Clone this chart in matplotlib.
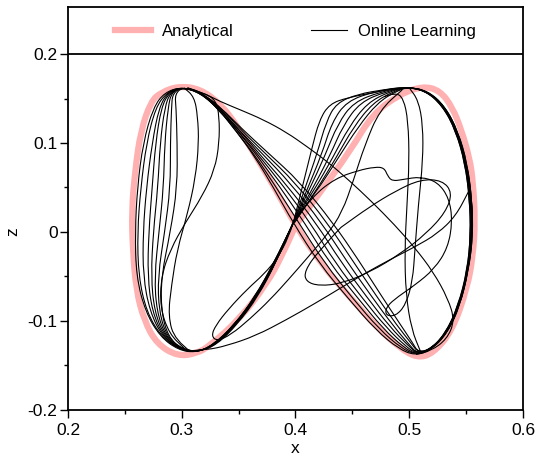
import numpy as np
import matplotlib
matplotlib.use('Agg')
import matplotlib.pyplot as plt
from matplotlib.path import Path
from matplotlib.patches import PathPatch
from matplotlib.lines import Line2D

plt.rcParams['font.family'] = ['Liberation Sans', 'DejaVu Sans']
plt.rcParams['axes.unicode_minus'] = False

# analytical figure-eight
ana_x = [0.400, 0.421, 0.448, 0.468, 0.492, 0.512, 0.527, 0.538, 0.546, 0.553,
         0.556, 0.558, 0.556, 0.551, 0.538, 0.521, 0.507, 0.492, 0.472, 0.448,
         0.422, 0.400, 0.382, 0.366, 0.349, 0.334, 0.316, 0.297, 0.282, 0.273,
         0.264, 0.259, 0.256, 0.257, 0.260, 0.267, 0.278, 0.296, 0.313, 0.325,
         0.351, 0.375, 0.388, 0.400]
ana_z = [0.007, 0.043, 0.091, 0.133, 0.155, 0.164, 0.159, 0.140, 0.114, 0.083,
         0.057, 0.012, -0.027, -0.063, -0.111, -0.137, -0.142, -0.131, -0.108, -0.074,
         -0.035, 0.007, 0.049, 0.083, 0.119, 0.144, 0.161, 0.164, 0.157, 0.147,
         0.114, 0.069, 0.024, -0.021, -0.066, -0.100, -0.126, -0.140, -0.137, -0.128,
         -0.098, -0.058, -0.027, 0.007]

# online learning: early transient pieces
trans_a = [(0.305, 0.162), (0.318, 0.157), (0.333, 0.147), (0.352, 0.137), (0.372, 0.126),
           (0.392, 0.112), (0.410, 0.096), (0.428, 0.079), (0.447, 0.058), (0.467, 0.034),
           (0.487, 0.008), (0.505, -0.018), (0.521, -0.045), (0.534, -0.075), (0.540, -0.100),
           (0.533, -0.121), (0.519, -0.134), (0.506, -0.138)]
trans_b = [(0.440, 0.005), (0.420, -0.022), (0.408, -0.044), (0.409, -0.056), (0.421, -0.061),
           (0.441, -0.058), (0.466, -0.045), (0.492, -0.025), (0.515, -0.002), (0.532, 0.022),
           (0.538, 0.044), (0.529, 0.058), (0.510, 0.059), (0.488, 0.046), (0.465, 0.028),
           (0.440, 0.005)]
trans_c = [(0.398, 0.012), (0.415, 0.040), (0.435, 0.060), (0.455, 0.069), (0.470, 0.073),
           (0.478, 0.072), (0.481, 0.063), (0.485, 0.057), (0.495, 0.059), (0.510, 0.062),
           (0.525, 0.056), (0.535, 0.038), (0.538, 0.012), (0.534, -0.018), (0.522, -0.042),
           (0.505, -0.060), (0.490, -0.073), (0.480, -0.084), (0.479, -0.094), (0.488, -0.095),
           (0.497, -0.082), (0.503, -0.055), (0.505, -0.020), (0.508, 0.030), (0.512, 0.080),
           (0.512, 0.120), (0.508, 0.148), (0.500, 0.162)]
trans_d = [(0.478, 0.152), (0.488, 0.157), (0.495, 0.150), (0.499, 0.125), (0.500, 0.080),
           (0.498, 0.030), (0.496, -0.020), (0.497, -0.070), (0.502, -0.110), (0.510, -0.135)]
trans_e = [(0.398, 0.010), (0.394, -0.006), (0.384, -0.030), (0.372, -0.048), (0.358, -0.064),
           (0.341, -0.087), (0.330, -0.105), (0.326, -0.117), (0.331, -0.123), (0.343, -0.116),
           (0.360, -0.098), (0.378, -0.076), (0.395, -0.052), (0.412, -0.027), (0.428, -0.003),
           (0.441, 0.022), (0.451, 0.058), (0.461, 0.098), (0.474, 0.137), (0.494, 0.160)]
trans_f = [(0.305, -0.134), (0.322, -0.133), (0.340, -0.128), (0.365, -0.117), (0.392, -0.099),
           (0.418, -0.080), (0.440, -0.063), (0.462, -0.046), (0.485, -0.030), (0.505, -0.017),
           (0.525, -0.002), (0.541, 0.018), (0.552, 0.045)]
trans_g = [(0.305, 0.162), (0.320, 0.156), (0.330, 0.148), (0.333, 0.130), (0.333, 0.100),
           (0.329, 0.070), (0.318, 0.040), (0.303, 0.010), (0.290, -0.020), (0.282, -0.050),
           (0.281, -0.085), (0.289, -0.115), (0.303, -0.132)]
trans_h = [(0.308, -0.135), (0.294, -0.122), (0.288, -0.095), (0.291, -0.060), (0.296, -0.020),
           (0.305, 0.020), (0.312, 0.060), (0.315, 0.100), (0.314, 0.130), (0.311, 0.152),
           (0.302, 0.162)]

# online learning: later cycles, from early (7) to converged (0)
cycle_7 = [(0.398, 0.010), (0.406, 0.050), (0.414, 0.092), (0.421, 0.126), (0.430, 0.144), (0.446, 0.151),
           (0.470, 0.157), (0.494, 0.163), (0.513, 0.160), (0.529, 0.143), (0.541, 0.116), (0.549, 0.080),
           (0.554, 0.040), (0.555, 0.000), (0.552, -0.042), (0.544, -0.082), (0.533, -0.113), (0.520, -0.131),
           (0.508, -0.136), (0.503, -0.125), (0.492, -0.104), (0.475, -0.071), (0.455, -0.031), (0.433, 0.010),
           (0.404, 0.056), (0.374, 0.091), (0.352, 0.117), (0.335, 0.139), (0.318, 0.156), (0.301, 0.163),
           (0.294, 0.155), (0.295, 0.140), (0.296, 0.100), (0.296, 0.050), (0.290, 0.000), (0.282, -0.050),
           (0.282, -0.090), (0.288, -0.118), (0.300, -0.132), (0.315, -0.135), (0.331, -0.127), (0.349, -0.104),
           (0.367, -0.073), (0.383, -0.034), (0.398, 0.010)]
cycle_6 = [(0.398, 0.010), (0.408, 0.048), (0.419, 0.088), (0.427, 0.124), (0.436, 0.145), (0.455, 0.155),
           (0.478, 0.160), (0.496, 0.163), (0.514, 0.159), (0.530, 0.143), (0.542, 0.115), (0.550, 0.079),
           (0.555, 0.039), (0.556, -0.001), (0.552, -0.042), (0.545, -0.082), (0.534, -0.113), (0.520, -0.132),
           (0.508, -0.136), (0.502, -0.126), (0.489, -0.105), (0.471, -0.072), (0.450, -0.032), (0.428, 0.010),
           (0.400, 0.055), (0.372, 0.090), (0.351, 0.116), (0.335, 0.139), (0.318, 0.156), (0.301, 0.163),
           (0.292, 0.156), (0.291, 0.140), (0.290, 0.100), (0.290, 0.050), (0.285, 0.000), (0.279, -0.050),
           (0.280, -0.090), (0.287, -0.118), (0.300, -0.132), (0.315, -0.135), (0.330, -0.127), (0.348, -0.104),
           (0.366, -0.073), (0.383, -0.034), (0.398, 0.010)]
cycle_5 = [(0.398, 0.010), (0.410, 0.047), (0.423, 0.087), (0.432, 0.123), (0.445, 0.147), (0.470, 0.158),
           (0.496, 0.163), (0.514, 0.159), (0.529, 0.142), (0.541, 0.114), (0.549, 0.078), (0.553, 0.038),
           (0.554, -0.002), (0.551, -0.043), (0.543, -0.083), (0.532, -0.114), (0.519, -0.132), (0.507, -0.137),
           (0.500, -0.127), (0.486, -0.106), (0.467, -0.073), (0.445, -0.033), (0.423, 0.010), (0.396, 0.054),
           (0.370, 0.089), (0.350, 0.115), (0.334, 0.138), (0.318, 0.156), (0.301, 0.163), (0.291, 0.157),
           (0.288, 0.140), (0.285, 0.100), (0.284, 0.050), (0.280, 0.000), (0.276, -0.050), (0.278, -0.090),
           (0.286, -0.118), (0.299, -0.132), (0.314, -0.135), (0.330, -0.127), (0.348, -0.104), (0.366, -0.073),
           (0.383, -0.034), (0.398, 0.010)]
cycle_4 = [(0.398, 0.010), (0.412, 0.047), (0.426, 0.086), (0.437, 0.121), (0.451, 0.146), (0.476, 0.158),
           (0.497, 0.163), (0.515, 0.159), (0.530, 0.142), (0.542, 0.114), (0.550, 0.078), (0.554, 0.038),
           (0.555, -0.002), (0.552, -0.043), (0.544, -0.083), (0.533, -0.114), (0.519, -0.132), (0.507, -0.137),
           (0.499, -0.128), (0.483, -0.107), (0.463, -0.074), (0.440, -0.034), (0.418, 0.010), (0.392, 0.053),
           (0.368, 0.088), (0.350, 0.115), (0.334, 0.138), (0.318, 0.156), (0.301, 0.163), (0.290, 0.157),
           (0.285, 0.140), (0.281, 0.100), (0.279, 0.050), (0.275, 0.000), (0.273, -0.050), (0.276, -0.090),
           (0.285, -0.118), (0.299, -0.132), (0.314, -0.135), (0.329, -0.127), (0.348, -0.104), (0.366, -0.073),
           (0.382, -0.034), (0.398, 0.010)]
cycle_3 = [(0.398, 0.010), (0.414, 0.046), (0.430, 0.085), (0.442, 0.120), (0.457, 0.146), (0.480, 0.158),
           (0.498, 0.163), (0.516, 0.159), (0.531, 0.142), (0.543, 0.113), (0.551, 0.077), (0.555, 0.037),
           (0.556, -0.003), (0.552, -0.044), (0.544, -0.084), (0.533, -0.115), (0.519, -0.133), (0.506, -0.137),
           (0.497, -0.129), (0.480, -0.108), (0.459, -0.075), (0.435, -0.035), (0.413, 0.010), (0.389, 0.052),
           (0.367, 0.087), (0.349, 0.114), (0.334, 0.138), (0.318, 0.156), (0.301, 0.163), (0.289, 0.157),
           (0.282, 0.140), (0.277, 0.100), (0.274, 0.050), (0.271, 0.000), (0.270, -0.050), (0.274, -0.090),
           (0.284, -0.118), (0.298, -0.132), (0.313, -0.136), (0.329, -0.127), (0.347, -0.104), (0.365, -0.073),
           (0.382, -0.034), (0.398, 0.010)]
cycle_2 = [(0.398, 0.010), (0.416, 0.046), (0.433, 0.084), (0.447, 0.118), (0.463, 0.145), (0.483, 0.158),
           (0.498, 0.163), (0.515, 0.159), (0.530, 0.141), (0.541, 0.113), (0.549, 0.077), (0.553, 0.037),
           (0.554, -0.003), (0.551, -0.045), (0.543, -0.084), (0.532, -0.115), (0.518, -0.133), (0.506, -0.138),
           (0.495, -0.130), (0.477, -0.109), (0.455, -0.075), (0.430, -0.035), (0.408, 0.010), (0.386, 0.051),
           (0.366, 0.086), (0.349, 0.114), (0.333, 0.137), (0.317, 0.156), (0.300, 0.163), (0.288, 0.157),
           (0.280, 0.140), (0.274, 0.100), (0.269, 0.050), (0.266, 0.000), (0.266, -0.050), (0.272, -0.090),
           (0.283, -0.118), (0.298, -0.132), (0.313, -0.136), (0.328, -0.127), (0.347, -0.104), (0.365, -0.073),
           (0.382, -0.035), (0.398, 0.010)]
cycle_1 = [(0.399, 0.010), (0.418, 0.046), (0.436, 0.084), (0.451, 0.118), (0.468, 0.145), (0.486, 0.158),
           (0.499, 0.163), (0.516, 0.158), (0.531, 0.141), (0.542, 0.112), (0.550, 0.076), (0.554, 0.036),
           (0.555, -0.004), (0.551, -0.046), (0.543, -0.085), (0.531, -0.116), (0.517, -0.134), (0.505, -0.138),
           (0.493, -0.131), (0.474, -0.110), (0.451, -0.076), (0.426, -0.036), (0.403, 0.010), (0.383, 0.050),
           (0.365, 0.085), (0.348, 0.113), (0.333, 0.137), (0.317, 0.156), (0.300, 0.163), (0.287, 0.157),
           (0.277, 0.140), (0.269, 0.100), (0.264, 0.050), (0.261, 0.000), (0.262, -0.050), (0.269, -0.090),
           (0.282, -0.118), (0.297, -0.132), (0.312, -0.136), (0.328, -0.128), (0.346, -0.105), (0.364, -0.074),
           (0.381, -0.035), (0.398, 0.010)]
cycle_0 = [(0.398, 0.010), (0.419, 0.046), (0.438, 0.084), (0.455, 0.118), (0.472, 0.145), (0.488, 0.158),
           (0.500, 0.163), (0.517, 0.158), (0.532, 0.140), (0.543, 0.112), (0.551, 0.076), (0.555, 0.036),
           (0.556, -0.004), (0.552, -0.045), (0.544, -0.085), (0.532, -0.116), (0.518, -0.134), (0.505, -0.139),
           (0.491, -0.132), (0.471, -0.111), (0.447, -0.076), (0.421, -0.036), (0.398, 0.010), (0.381, 0.049),
           (0.364, 0.085), (0.348, 0.113), (0.333, 0.137), (0.317, 0.156), (0.300, 0.163), (0.285, 0.157),
           (0.275, 0.140), (0.266, 0.100), (0.261, 0.050), (0.259, 0.000), (0.260, -0.050), (0.268, -0.090),
           (0.281, -0.118), (0.297, -0.133), (0.312, -0.136), (0.327, -0.128), (0.346, -0.105), (0.364, -0.074),
           (0.381, -0.035), (0.398, 0.010)]

online_paths = [trans_a, trans_b, trans_c, trans_d, trans_e, trans_f, trans_g, trans_h,
                cycle_7, cycle_6, cycle_5, cycle_4, cycle_3, cycle_2, cycle_1, cycle_0]

x_ticks = [0.2, 0.3, 0.4, 0.5, 0.6]
x_ticklabels = ['0.2', '0.3', '0.4', '0.5', '0.6']
z_ticks = [-0.2, -0.1, 0.0, 0.1, 0.2]
z_ticklabels = ['-0.2', '-0.1', '0', '0.1', '0.2']

pink = '#ffb0b0'


def smooth_path(pts):
    # quadratic bezier through midpoints so the thin lines don't look jagged
    pts = np.asarray(pts, dtype=float)
    verts = [pts[0]]
    codes = [Path.MOVETO]
    for i in range(1, len(pts) - 1):
        verts += [pts[i], (pts[i] + pts[i + 1]) / 2]
        codes += [Path.CURVE3, Path.CURVE3]
    verts.append(pts[-1])
    codes.append(Path.LINETO)
    return Path(verts, codes)


fig = plt.figure(figsize=(5.38, 4.57), dpi=100)
ax = fig.add_axes([0.1264, 0.1039, 0.8457, 0.8808])

ax.add_patch(PathPatch(smooth_path(np.column_stack([ana_x, ana_z])), fill=False,
                       ec=pink, lw=4.5, capstyle='round', joinstyle='round', zorder=2))
for seg in online_paths:
    ax.add_patch(PathPatch(smooth_path(seg), fill=False, ec='black', lw=0.8, zorder=3))

ax.axhline(0.2, color='black', lw=1.3, zorder=4)

ax.set_xlim(0.2, 0.6)
ax.set_ylim(-0.2, 0.253)
ax.set_xticks(x_ticks)
ax.set_xticklabels(x_ticklabels)
ax.set_yticks(z_ticks)
ax.set_yticklabels(z_ticklabels)
ax.set_xticks([0.25, 0.35, 0.45, 0.55], minor=True)
ax.set_yticks([-0.15, -0.05, 0.05, 0.15], minor=True)
ax.tick_params(which='both', direction='out', top=False, right=False, width=1, labelsize=12.5)
ax.tick_params(which='major', length=6)
ax.tick_params(which='minor', length=3)
ax.tick_params(axis='x', pad=4)
ax.tick_params(axis='y', pad=1.5)
for s in ax.spines.values():
    s.set_linewidth(1.3)

ax.set_xlabel('x', fontsize=12.5, labelpad=2)
ax.set_ylabel('z', fontsize=12.5)
ax.yaxis.set_label_coords(-0.104, 0.4415)

handles = [Line2D([], [], color=pink, lw=4.5), Line2D([], [], color='black', lw=0.8)]
ax.legend(handles, ['Analytical', 'Online Learning'], loc='center', bbox_to_anchor=(0.5, 0.939),
          ncol=2, frameon=False, fontsize=12, handlelength=2.2, handletextpad=0.66,
          columnspacing=4.6)

fig.savefig('out.png', dpi=100)
